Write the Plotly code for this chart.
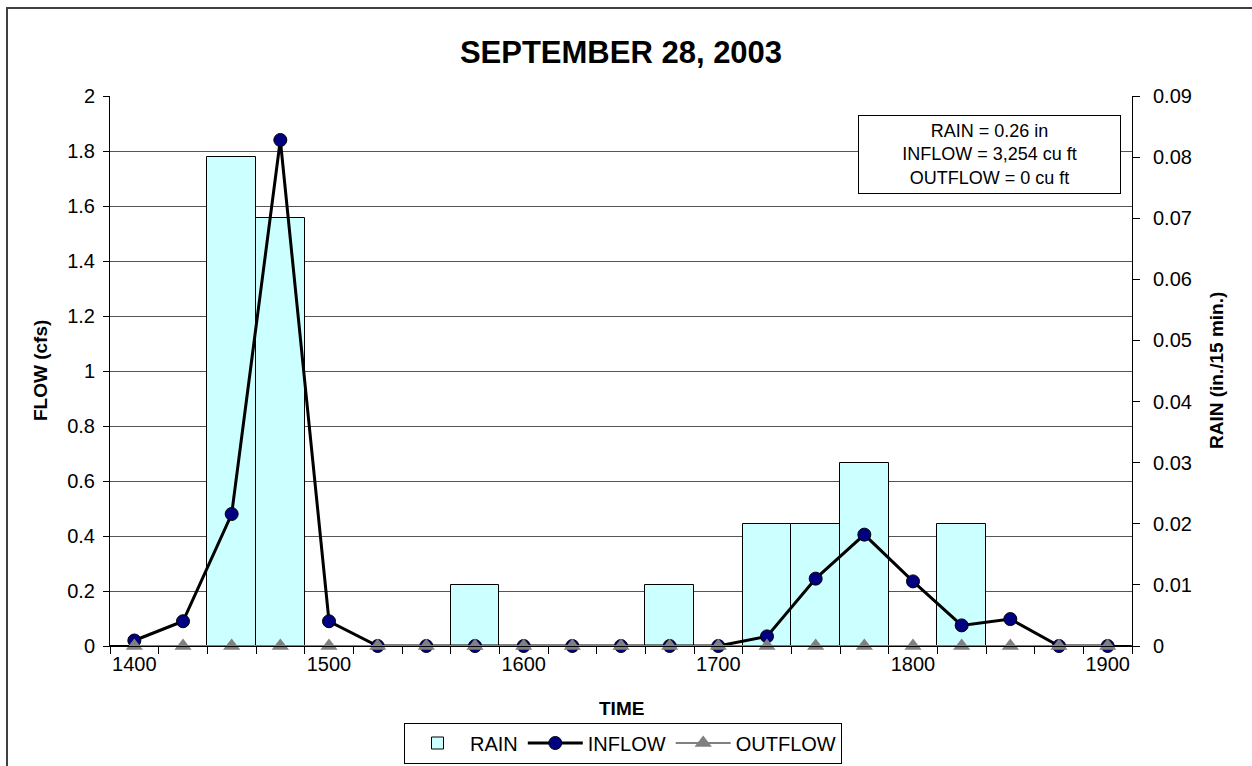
import plotly.graph_objects as go

# ---- data ----
times = ["1400", "1415", "1430", "1445", "1500", "1515", "1530", "1545",
         "1600", "1615", "1630", "1645", "1700", "1715", "1730", "1745",
         "1800", "1815", "1830", "1845", "1900"]
rain = [0, 0, 0.08, 0.07, 0, 0, 0, 0.01,
        0, 0, 0, 0.01, 0, 0.02, 0.02, 0.03,
        0, 0.02, 0, 0, 0]
inflow = [0.02, 0.09, 0.48, 1.84, 0.09, 0, 0, 0,
          0, 0, 0, 0, 0, 0.035, 0.245, 0.405,
          0.235, 0.075, 0.098, 0, 0]
outflow = [0] * 21
tick_labels = [t if i % 4 == 0 else "" for i, t in enumerate(times)]

flow_max, flow_step = 2.0, 0.2
rain_max, rain_step = 0.09, 0.01
# flow gridlines expressed on the rain axis
grid_vals = [k * flow_step * rain_max / flow_max for k in range(1, 11)]

FONT = "Liberation Sans, Arial, sans-serif"

fig = go.Figure()
fig.add_trace(go.Bar(
    x=times, y=rain, name="RAIN", yaxis="y",
    marker=dict(color="#CCFFFF", line=dict(color="black", width=1)),
))
fig.add_trace(go.Scatter(
    x=times, y=inflow, name="INFLOW", yaxis="y2", mode="lines+markers",
    line=dict(color="black", width=3),
    marker=dict(symbol="circle", size=13, color="#000080",
                line=dict(color="black", width=1)),
    cliponaxis=False,
))
fig.add_trace(go.Scatter(
    x=times, y=outflow, name="OUTFLOW", yaxis="y2", mode="lines+markers",
    line=dict(color="#808080", width=2),
    marker=dict(symbol="triangle-up", size=15, color="#808080"),
    cliponaxis=False,
))

L, R, T, B = 110, 1132, 96, 646
W, H = 1252, 766
pw, ph = R - L, B - T

def px(x):
    return (x - L) / pw

def py(y):
    return (B - y) / ph

fig.update_layout(
    width=W, height=H,
    margin=dict(l=L, r=W - R, t=T, b=H - B, pad=0, autoexpand=False),
    paper_bgcolor="white", plot_bgcolor="white",
    font=dict(family=FONT, size=20, color="black"),
    bargap=0,
    showlegend=True,
    title=dict(text="<b>SEPTEMBER 28, 2003</b>", x=0.5, xref="paper",
               xanchor="center", y=1 - 52 / H, yref="container",
               yanchor="middle", font=dict(size=31, family=FONT)),
    xaxis=dict(type="category", range=[-0.5, len(times) - 0.5],
               tickmode="array", tickvals=times,
               ticktext=tick_labels, tickson="boundaries", ticks="outside",
               ticklen=7, tickcolor="black", showline=True, linecolor="black",
               linewidth=1, showgrid=False, zeroline=False, tickangle=0,
               tickfont=dict(size=20)),
    yaxis=dict(range=[0, rain_max], dtick=rain_step, tick0=0, side="right",
               showline=True, linecolor="black", linewidth=1,
               ticks="outside", ticklen=7, tickcolor="black", showgrid=False,
               zeroline=False, tickformat="~g", tickfont=dict(size=20),
               ticklabelstandoff=9,
               minor=dict(tickmode="array", tickvals=grid_vals, ticks="",
                          showgrid=True, gridcolor="#555555", gridwidth=1)),
    yaxis2=dict(range=[0, flow_max], dtick=flow_step, tick0=0, side="left",
                overlaying="y", showline=True, linecolor="black", linewidth=1,
                ticks="outside", ticklen=6, tickcolor="black", showgrid=False,
                zeroline=False, tickformat="~g", tickfont=dict(size=20),
                ticklabelstandoff=4),
    legend=dict(orientation="h", x=px(623), y=py(743), xanchor="center",
                yanchor="middle", bordercolor="black", borderwidth=1,
                bgcolor="white", font=dict(size=20), itemwidth=55,
                traceorder="normal"),
)

fig.add_annotation(text="<b>FLOW (cfs)</b>", textangle=-90, x=px(40), y=0.5,
                   xref="paper", yref="paper", showarrow=False,
                   font=dict(size=19), xanchor="center", yanchor="middle")
fig.add_annotation(text="<b>RAIN (in./15 min.)</b>", textangle=-90, x=px(1216),
                   y=0.5, xref="paper", yref="paper", showarrow=False,
                   font=dict(size=19), xanchor="center", yanchor="middle")
fig.add_annotation(text="<b>TIME</b>", x=0.5, y=py(708), xref="paper",
                   yref="paper", showarrow=False, font=dict(size=19),
                   xanchor="center", yanchor="middle")
fig.add_annotation(text="RAIN = 0.26 in<br>INFLOW = 3,254 cu ft<br>OUTFLOW = 0 cu ft",
                   x=px(989.5), y=py(154.5), xref="paper", yref="paper",
                   showarrow=False, align="center", font=dict(size=18),
                   bordercolor="black", borderwidth=1, borderpad=5,
                   bgcolor="white", width=251, xanchor="center",
                   yanchor="middle")

# chart-area border (right and bottom edges fall outside the picture)
fig.add_shape(type="rect", xref="paper", yref="paper",
              x0=px(7), x1=px(1262), y0=py(780), y1=py(8),
              line=dict(color="#404040", width=2), layer="below")

fig.write_html("out.html",
               config={"displayModeBar": False},
               post_script="document.body.style.margin='0';"
                           "document.body.style.overflow='hidden';")
